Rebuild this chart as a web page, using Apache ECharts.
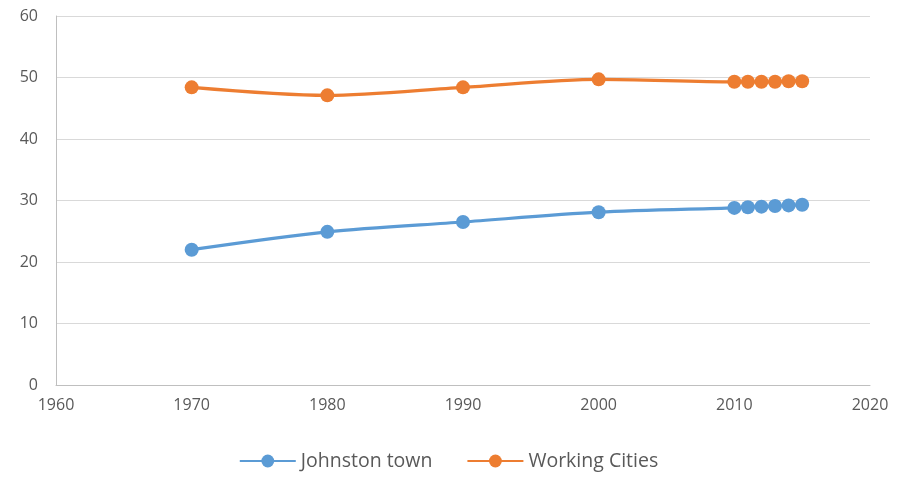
<!DOCTYPE html>
<html>
<head>
<meta charset="utf-8">
<script src="https://cdn.jsdelivr.net/npm/echarts@6/dist/echarts.min.js"></script>
<style>
html,body{margin:0;padding:0;background:#fff;}
#chart{width:897px;height:485px;}
</style>
</head>
<body>
<div id="chart"></div>
<script>
// years shared by both series
var years = [1970, 1980, 1990, 2000, 2010, 2011, 2012, 2013, 2014, 2015];
var johnstonTown = [22.0, 24.9, 26.5, 28.1, 28.8, 28.9, 29.0, 29.1, 29.2, 29.3];
var workingCities = [48.4, 47.1, 48.4, 49.7, 49.3, 49.3, 49.3, 49.3, 49.4, 49.4];

function pairs(xs, ys){
    return xs.map(function(x, i){ return [x, ys[i]]; });
}

var myChart = echarts.init(document.getElementById("chart"));
var textColor = '#595959';
var font = 'Open Sans';

myChart.setOption({
    animation: false,
    grid: {
        left: 56,
        right: 27,
        top: 16,
        bottom: 100
    },
    legend: {
        bottom: 9,
        left: 'center',
        itemWidth: 56,
        itemHeight: 16,
        itemGap: 34,
        textStyle: { color: textColor, fontSize: 19.5, fontFamily: font },
        data: ['Johnston town', 'Working Cities']
    },
    xAxis: {
        type: 'value',
        min: 1960,
        max: 2020,
        interval: 10,
        axisLine: { show: true, lineStyle: { color: '#bfbfbf', width: 1 } },
        axisTick: { show: false },
        splitLine: { show: false },
        axisLabel: {
            color: textColor, fontSize: 16, fontFamily: font, margin: 12,
            formatter: function(v){ return String(v); }
        }
    },
    yAxis: {
        type: 'value',
        min: 0,
        max: 60,
        interval: 10,
        axisLine: { show: true, lineStyle: { color: '#bfbfbf', width: 1 } },
        axisTick: { show: false },
        splitLine: { show: true, lineStyle: { color: '#d9d9d9', width: 1 } },
        axisLabel: { color: textColor, fontSize: 16, fontFamily: font, margin: 18 }
    },
    series: [
        {
            name: 'Johnston town',
            type: 'line',
            smooth: 0.3,
            symbol: 'circle',
            symbolSize: 14,
            itemStyle: { color: '#5b9bd5' },
            lineStyle: { color: '#5b9bd5', width: 3.2 },
            data: pairs(years, johnstonTown)
        },
        {
            name: 'Working Cities',
            type: 'line',
            smooth: 0.3,
            symbol: 'circle',
            symbolSize: 14,
            itemStyle: { color: '#ed7d31' },
            lineStyle: { color: '#ed7d31', width: 3.2 },
            data: pairs(years, workingCities)
        }
    ]
});
</script>
</body>
</html>
